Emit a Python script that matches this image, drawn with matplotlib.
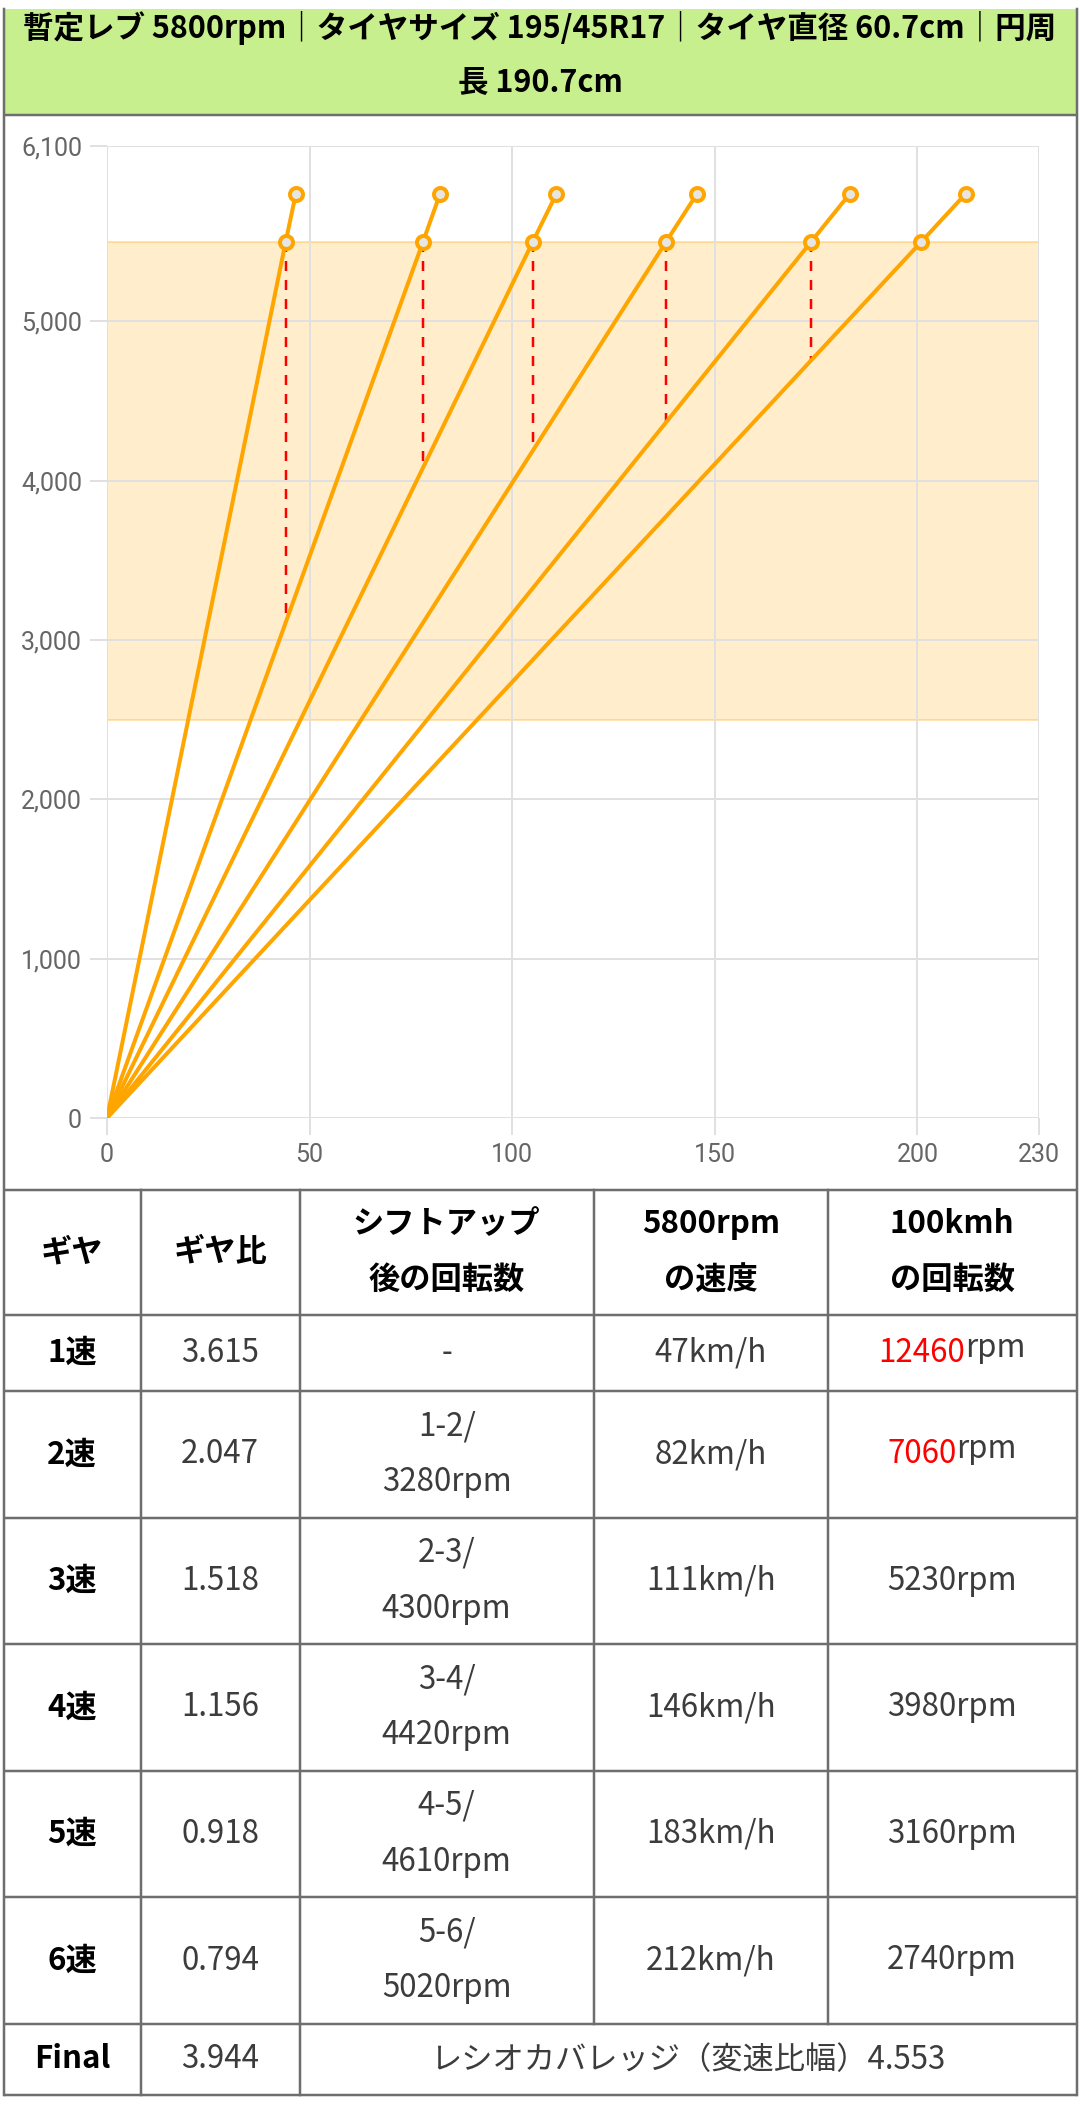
import matplotlib
matplotlib.use("Agg")
import matplotlib.pyplot as plt
from matplotlib.patches import Rectangle

plt.rcParams['font.family'] = ['Noto Sans CJK JP', 'DejaVu Sans']

title_lines = ["暫定レブ 5800rpm｜タイヤサイズ 195/45R17｜タイヤ直径 60.7cm｜円周",
               "長 190.7cm"]

# chart data
x_ticks = [0, 50, 100, 150, 200, 230]
y_ticks = [0, 1000, 2000, 3000, 4000, 5000, 6100]
shift_rpm = 5500
limit_rpm = 5800
band_low, band_high = 2500, 5500
speed_at_shift = [44.1, 78.0, 105.1, 138.0, 173.8, 201.0]
speed_at_limit = [46.6, 82.2, 110.9, 145.6, 183.3, 211.9]
rpm_after_shift = [3114, 4079, 4188, 4368, 4757]

# table data
headers = [["ギヤ"], ["ギヤ比"], ["シフトアップ", "後の回転数"], ["5800rpm", "の速度"], ["100kmh", "の回転数"]]
gears = ["1速", "2速", "3速", "4速", "5速", "6速"]
ratios = ["3.615", "2.047", "1.518", "1.156", "0.918", "0.794"]
shift_pairs = ["", "1-2", "2-3", "3-4", "4-5", "5-6"]
shift_after = [None, 3280, 4300, 4420, 4610, 5020]
speed_limit_kmh = [47, 82, 111, 146, 183, 212]
rpm_at_100 = [12460, 7060, 5230, 3980, 3160, 2740]
over_rev = [True, True, False, False, False, False]
final_label = "Final"
final_ratio = "3.944"
ratio_coverage = "レシオカバレッジ（変速比幅）4.553"

W, H = 1080, 2109
def pt(p):
    return p * 0.72

fig = plt.figure(figsize=(W / 100, H / 100), dpi=100)
bg = fig.add_axes([0, 0, 1, 1])
bg.set_xlim(0, W)
bg.set_ylim(H, 0)
bg.axis("off")

border = "#6e6e6e"
blw = pt(2.5)

# title box
bg.add_patch(Rectangle((3, 9), 1074, 106, fc="#c7ef8d", ec="none"))
bg.text(540, 28, title_lines[0], ha="center", va="center", fontsize=22, fontweight="bold", color="black")
bg.text(540, 83, title_lines[1], ha="center", va="center", fontsize=22, fontweight="bold", color="black")

# grid of the table
row_lines = [115, 1189.5, 1315, 1391, 1517.5, 1644, 1770.7, 1897, 2024, 2095]
col_lines = [3.5, 140.5, 299.6, 593.7, 827.8, 1076.5]
for y in row_lines:
    bg.plot([3.5, 1076.5], [y, y], color=border, lw=blw, solid_capstyle="butt")
bg.plot([3.5, 3.5], [9, 2095], color=border, lw=blw)
bg.plot([1076.5, 1076.5], [9, 2095], color=border, lw=blw)
for i, x in enumerate(col_lines[1:-1]):
    bottom = 2095 if i < 2 else 2024
    bg.plot([x, x], [1189.5, bottom], color=border, lw=blw)

col_c = [(col_lines[i] + col_lines[i + 1]) / 2 for i in range(5)]
row_top = row_lines[1:]
row_c = [(row_top[i] + row_top[i + 1]) / 2 for i in range(len(row_top) - 1)]
fs = 22.5
body = "#3c3c3c"
gap = 28

def cell(x, y, lines, bold=False, color=body):
    n = len(lines)
    for k, s in enumerate(lines):
        yy = y + (k - (n - 1) / 2) * 2 * gap
        bg.text(x, yy, s, ha="center", va="center", fontsize=fs,
                fontweight="bold" if bold else "normal", color=color if not bold else "black")

for j, h in enumerate(headers):
    cell(col_c[j], row_c[0], h, bold=True)

renderer = fig.canvas.get_renderer()
for i in range(6):
    y = row_c[i + 1]
    cell(col_c[0], y, [gears[i]], bold=True)
    cell(col_c[1], y, [ratios[i]])
    if shift_after[i] is None:
        cell(col_c[2], y, ["-"])
    else:
        cell(col_c[2], y, [shift_pairs[i] + "/", f"{shift_after[i]}rpm"])
    cell(col_c[3], y, [f"{speed_limit_kmh[i]}km/h"])
    if over_rev[i]:
        t1 = bg.text(0, y, str(rpm_at_100[i]), ha="left", va="center", fontsize=fs, color="red")
        t2 = bg.text(0, y - 5, "rpm", ha="left", va="center", fontsize=fs, color=body)
        w1 = t1.get_window_extent(renderer).width
        w2 = t2.get_window_extent(renderer).width
        x0 = col_c[4] - (w1 + w2) / 2
        t1.set_x(x0)
        t2.set_x(x0 + w1)
    else:
        cell(col_c[4], y, [f"{rpm_at_100[i]}rpm"])

yf = row_c[7]
cell(col_c[0], yf, [final_label], bold=True)
cell(col_c[1], yf, [final_ratio])
cell((col_lines[2] + col_lines[5]) / 2, yf, [ratio_coverage])

# chart
L, R, T, B = 107, 1039, 146, 1118
ax = fig.add_axes([L / W, 1 - B / H, (R - L) / W, (B - T) / H])
ax.set_xlim(0, 230)
ax.set_ylim(0, 6100)
ax.patch.set_alpha(0)
for s in ax.spines.values():
    s.set_visible(False)

ax.set_xticks(x_ticks)
ax.set_yticks(y_ticks)
ax.set_yticklabels([f"{v:,}" for v in y_ticks])
ax.tick_params(axis="both", length=pt(17), width=pt(2), color="#e0e0e0",
               labelsize=18, labelcolor="#666666")
ax.tick_params(axis="y", pad=pt(8))
ax.tick_params(axis="x", pad=pt(8))
for lab in ax.get_xticklabels() + ax.get_yticklabels():
    lab.set_fontfamily(["Roboto", "DejaVu Sans"])
ax.grid(True, color="#e0e0e0", lw=pt(2), zorder=0)
ax.axhline(0, color="#d0d0d0", lw=pt(3), zorder=1)
ax.axvline(0, color="#d0d0d0", lw=pt(2), zorder=1)

ax.axhspan(band_low, band_high, fc=(1, 0.647, 0, 0.2), ec=(1, 0.647, 0, 0.3), lw=pt(2), zorder=1)

for i in range(5):
    ax.plot([speed_at_shift[i], speed_at_shift[i]], [shift_rpm, rpm_after_shift[i]],
            color="red", lw=pt(2.5), linestyle=(0, (4, 3.6)), zorder=2)

for i in range(6):
    ax.plot([0, speed_at_shift[i], speed_at_limit[i]], [0, shift_rpm, limit_rpm],
            color="#ffa500", lw=pt(4), zorder=3)
    ax.plot([speed_at_shift[i], speed_at_limit[i]], [shift_rpm, limit_rpm], ls="none",
            marker="o", ms=pt(13), mew=pt(4), mec="#ffa500", mfc="#e6e6e6", zorder=4)

fig.savefig("out.png", dpi=100)
